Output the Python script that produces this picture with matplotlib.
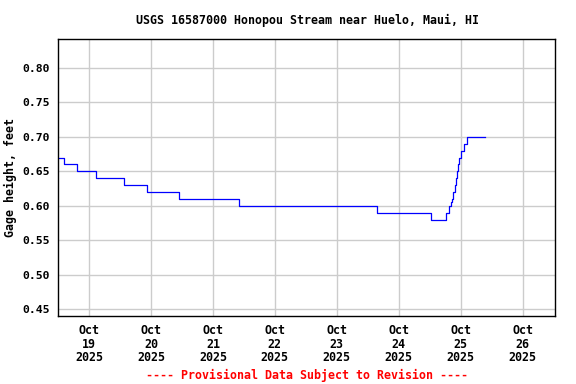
import pandas as pd
import numpy as np
import matplotlib
matplotlib.use("Agg")
import matplotlib.pyplot as plt
import matplotlib.dates as mdates

# ── Data ──────────────────────────────────────────────────────────────────
TIMES = [
    "2025-10-18 12:00", "2025-10-18 14:30", "2025-10-18 19:30", "2025-10-19 02:50",
    "2025-10-19 13:40", "2025-10-19 22:35", "2025-10-20 10:50", "2025-10-21 10:10",
    "2025-10-23 15:25", "2025-10-24 12:20", "2025-10-24 18:20", "2025-10-24 19:30",
    "2025-10-24 20:10", "2025-10-24 20:35", "2025-10-24 21:10", "2025-10-24 21:35",
    "2025-10-24 22:00", "2025-10-24 22:30", "2025-10-24 22:50", "2025-10-24 23:10",
    "2025-10-24 23:55", "2025-10-25 01:20", "2025-10-25 02:25", "2025-10-25 09:25",
]
GAGE_FT = [
    0.67, 0.66, 0.65, 0.64,
    0.63, 0.62, 0.61, 0.60,
    0.59, 0.58, 0.59, 0.60,
    0.605, 0.61, 0.62, 0.63,
    0.64, 0.65, 0.66, 0.67,
    0.68, 0.69, 0.70, 0.70,
]

Y_TICKS = [0.45, 0.50, 0.55, 0.60, 0.65, 0.70, 0.75, 0.80]
X_TICK_DAYS = pd.date_range("2025-10-19", "2025-10-26", freq="D")

TITLE = "USGS 16587000 Honopou Stream near Huelo, Maui, HI"
FOOTER = "---- Provisional Data Subject to Revision ----"

# ── Style ──────────────────────────────────────────────────────────────────
FONT = "DejaVu Sans Mono"
FS = 8.4
C_LINE = "#0000ff"
C_GRID = "#cccccc"

t = pd.to_datetime(TIMES)

fig = plt.figure(figsize=(5.76, 3.84), dpi=100)
ax = fig.add_axes([58 / 576, 68 / 384, 497 / 576, 277 / 384])

ax.step(t, GAGE_FT, where="post", color=C_LINE, lw=0.9)

ax.set_xlim(pd.Timestamp("2025-10-18 12:00"), pd.Timestamp("2025-10-26 12:30"))
ax.set_ylim(0.44, 0.842)

ax.set_yticks(Y_TICKS)
ax.set_yticklabels([f"{v:.2f}" for v in Y_TICKS], family=FONT,
                   fontsize=8.2, fontweight="bold")
ax.set_xticks(X_TICK_DAYS)
ax.set_xticklabels([d.strftime("%b\n%d\n%Y") for d in X_TICK_DAYS],
                   family=FONT, fontsize=FS, fontweight="bold",
                   linespacing=1.05)
ax.tick_params(length=0, pad=6)

ax.grid(True, color=C_GRID, lw=1)
ax.set_axisbelow(True)
for s in ax.spines.values():
    s.set_linewidth(1)
    s.set_color("black")

ax.set_ylabel("Gage height, feet", family=FONT, fontsize=FS,
              fontweight="bold", labelpad=4)
fig.text(307 / 576, 1 - 20 / 384, TITLE, ha="center", va="center",
         family=FONT, fontsize=FS, fontweight="bold")
fig.text(307 / 576, 1 - 375 / 384, FOOTER, ha="center", va="center",
         family=FONT, fontsize=FS, fontweight="bold", color="#ff0000")

fig.savefig("out.png", dpi=100)
